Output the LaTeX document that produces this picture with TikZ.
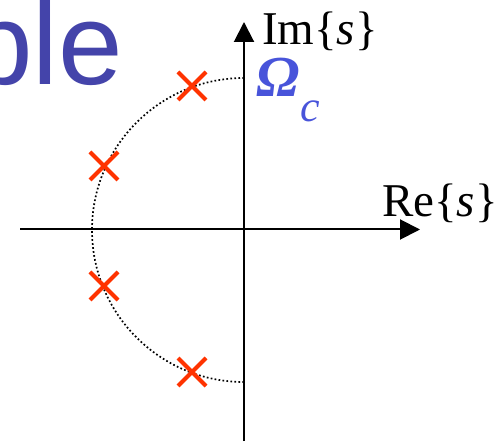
\documentclass[tikz,border=0pt]{standalone}
\usepackage{fontspec}
\setmainfont{Liberation Serif}
\newfontfamily\slidefont{Liberation Sans}
\usepackage{tikz}
\usetikzlibrary{arrows.meta, shapes.misc}

\definecolor{titleblue}{RGB}{68,68,170}
\definecolor{omegablue}{RGB}{72,84,218}
\definecolor{polered}{RGB}{255,51,0}

\begin{document}
\begin{tikzpicture}[
  x=1pt, y=1pt,
  axis/.style={line width=2pt, -{Triangle[length=20pt, width=20pt]}},
  circ/.style={line width=1.7pt, dash pattern=on 1.7pt off 2.3pt},
  pole/.style={cross out, draw=polered, line width=4pt, minimum size=24pt, inner sep=0pt},
  lbl/.style={inner sep=0pt, font=\fontsize{47}{47}\selectfont}
]
\clip (0,0) rectangle (502,441);

% title fragment from the slide
\node[inner sep=0pt, anchor=base east, text=titleblue,
  font=\slidefont\fontsize{116}{116}\selectfont] (title) at (123,356) {ble};

% axes
\coordinate (o) at (244,211);
\coordinate (xl) at (20,211.5);
\coordinate (xr) at (420,211.5);
\coordinate (yb) at (244,0);
\coordinate (yt) at (244,419);
\draw[axis] (xl) -- (xr);
\draw[axis] (yb) -- (yt);

% circle of radius Omega_c
\draw[circ] (o) ++(0,152) arc[start angle=90, end angle=270, radius=152];

% poles
\node[pole] (p1) at (192,355) {};
\node[pole] (p2) at (104,275) {};
\node[pole] (p3) at (104,155) {};
\node[pole] (p4) at (192,69) {};

% labels
\node[lbl, anchor=base west] (im) at (262,396) {Im\{\textit{s}\}};
\node[lbl, anchor=base west] (re) at (382,224) {Re\{\textit{s}\}};
\node[inner sep=0pt, anchor=base west, text=omegablue,
  font=\fontsize{58}{58}\selectfont] (wc) at (256,344)
  {\textbf{\textit{Ω}}\hspace{1pt}\raisebox{-25pt}{\fontsize{44}{44}\selectfont\textit{c}}};
\end{tikzpicture}
\end{document}
